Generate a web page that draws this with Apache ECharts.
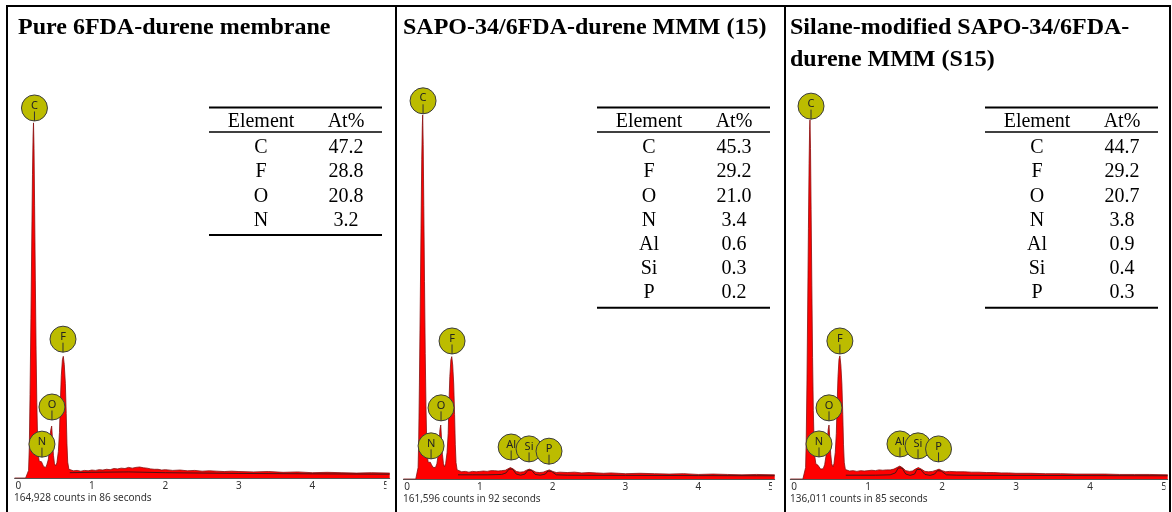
<!DOCTYPE html>
<html><head><meta charset="utf-8">
<script src="https://cdn.jsdelivr.net/npm/echarts@6/dist/echarts.min.js"></script>
<style>html,body{margin:0;padding:0;background:#fff}#c{width:1172px;height:512px}</style>
</head><body><div id="c"></div>
<script>
// ---------- titles ----------
const titles = ['Pure 6FDA-durene membrane', 'SAPO-34/6FDA-durene MMM (15)', 'Silane-modified SAPO-34/6FDA-\ndurene MMM (S15)'];
const countsTexts = ['164,928 counts in 86 seconds', '161,596 counts in 92 seconds', '136,011 counts in 85 seconds'];
const tickValues = [0, 1, 2, 3, 4, 5];

// ---------- tables ----------
const tableElements1 = ['C', 'F', 'O', 'N'];
const tableAt1 = ['47.2', '28.8', '20.8', '3.2'];
const tableElements2 = ['C', 'F', 'O', 'N', 'Al', 'Si', 'P'];
const tableAt2 = ['45.3', '29.2', '21.0', '3.4', '0.6', '0.3', '0.2'];
const tableElements3 = ['C', 'F', 'O', 'N', 'Al', 'Si', 'P'];
const tableAt3 = ['44.7', '29.2', '20.7', '3.8', '0.9', '0.4', '0.3'];

// ---------- spectra: [energy keV, relative counts] ----------
const spectrum1 = [
 [-0.05,0],[0.10,0],[0.125,0.3],[0.14,2],[0.15,8],[0.16,22],[0.172,42],[0.183,62],[0.193,80],[0.201,90],[0.207,93.7],[0.214,87],[0.222,72],[0.232,52],[0.242,34],[0.252,20],[0.262,11],[0.272,6],[0.285,4.4],
 [0.3,4.0],[0.315,4.3],[0.33,3.9],[0.345,3.0],[0.36,2.6],[0.375,2.8],[0.39,3.6],
 [0.41,5],[0.425,8.5],[0.44,12.5],[0.454,13.7],[0.466,10],[0.478,6],[0.492,3.8],[0.508,3.2],
 [0.525,4],[0.545,7],[0.56,12],[0.572,20],[0.585,27],[0.6,31.2],[0.612,32.1],[0.625,30],[0.64,25],[0.652,17],[0.662,9],[0.672,4.2],[0.688,2.3],[0.71,1.9],
 [0.75,1.9],[0.8,2.0],[0.85,1.8],[0.9,2.0],[0.95,1.9],[1.0,2.1],[1.05,2.0],[1.1,2.2],[1.15,2.1],[1.2,2.3],[1.25,2.2],[1.3,2.5],[1.35,2.4],[1.4,2.6],[1.45,2.5],[1.5,2.8],[1.55,2.6],[1.6,2.8],[1.65,2.9],[1.7,2.7],[1.75,2.6],[1.8,2.4],[1.85,2.3],[1.9,2.3],[1.95,2.1],[2.0,2.2],[2.1,2.0],[2.2,2.1],[2.3,1.9],[2.4,2.0],[2.5,1.8],[2.6,1.9],[2.7,1.8],[2.8,1.7],[2.9,1.8],[3.0,1.7],[3.2,1.6],[3.4,1.7],[3.6,1.5],[3.8,1.6],[4.0,1.4],[4.2,1.5],[4.4,1.4],[4.6,1.3],[4.8,1.4],[5.05,1.3]
];
const fit1 = [[0.7,1.4],[1.0,1.5],[1.5,1.6],[2.0,1.4],[3.0,1.2],[4.0,1.1],[5.05,1.0]];

const spectrum2 = [
 [-0.05,0],[0.12,0],[0.14,0.4],[0.152,3],[0.16,10],[0.17,25],[0.181,45],[0.192,66],[0.202,84],[0.21,93],[0.215,95.8],[0.222,88],[0.23,72],[0.24,52],[0.25,33],[0.26,19],[0.27,10],[0.28,6],[0.29,4.4],
 [0.305,4.2],[0.32,4.4],[0.335,3.8],[0.355,3.1],[0.375,2.8],[0.39,3.0],[0.41,4],
 [0.425,6],[0.44,9.5],[0.452,13],[0.463,14.2],[0.474,10.5],[0.486,6.5],[0.5,4],[0.515,3.2],
 [0.53,4],[0.55,7],[0.565,12],[0.576,20],[0.588,27],[0.602,31.3],[0.614,32.2],[0.627,30],[0.641,25],[0.653,17],[0.663,9],[0.673,4.3],[0.688,2.4],[0.71,1.9],
 [0.75,1.9],[0.8,2.0],[0.85,1.8],[0.9,2.0],[0.95,1.9],[1.0,2.0],[1.05,2.1],[1.1,2.0],[1.15,2.2],[1.2,2.2],[1.25,2.1],[1.3,2.2],[1.35,2.3],[1.38,2.6],[1.42,3.0],[1.46,2.6],[1.5,2.0],[1.55,1.8],[1.6,1.9],[1.64,2.3],[1.68,2.6],[1.72,2.3],[1.77,1.8],[1.82,1.7],[1.87,1.8],[1.91,2.1],[1.955,2.4],[2.0,2.0],[2.05,1.7],[2.1,1.8],[2.2,1.7],[2.3,1.8],[2.4,1.6],[2.5,1.7],[2.6,1.6],[2.7,1.5],[2.8,1.6],[2.9,1.5],[3.0,1.4],[3.2,1.5],[3.4,1.4],[3.6,1.3],[3.8,1.4],[4.0,1.2],[4.2,1.3],[4.4,1.2],[4.6,1.1],[4.8,1.2],[5.05,1.1]
];
const fit2 = [[0.7,1.1],[0.9,1.1],[1.1,1.1],[1.3,1.2],[1.36,1.6],[1.4,2.6],[1.42,3.0],[1.45,2.6],[1.5,1.3],[1.56,1.0],[1.62,1.3],[1.66,2.3],[1.68,2.6],[1.71,2.3],[1.76,1.2],[1.83,1.0],[1.9,1.3],[1.935,2.1],[1.955,2.4],[1.985,2.0],[2.05,1.1],[2.2,1.0],[3.0,0.95],[4.0,0.9],[5.05,0.85]];

const spectrum3 = [
 [-0.05,0],[0.12,0],[0.145,0.4],[0.157,3],[0.165,10],[0.175,25],[0.185,45],[0.195,66],[0.204,83],[0.211,92],[0.216,94.5],[0.223,87],[0.231,71],[0.241,51],[0.251,32],[0.261,18],[0.271,10],[0.282,5.8],[0.295,4.0],
 [0.31,3.5],[0.325,3.6],[0.34,3.2],[0.36,2.6],[0.38,2.4],[0.395,2.7],[0.415,3.8],
 [0.432,6],[0.448,9.5],[0.462,13],[0.473,14.2],[0.484,10.5],[0.496,6.5],[0.51,4],[0.525,3.2],
 [0.54,4],[0.558,7],[0.572,12],[0.583,20],[0.595,27],[0.608,31.5],[0.62,32.4],[0.633,30],[0.647,25],[0.659,17],[0.669,9],[0.679,4.4],[0.694,2.5],[0.715,2.0],
 [0.75,2.1],[0.8,2.2],[0.85,2.0],[0.9,2.2],[0.95,2.1],[1.0,2.2],[1.05,2.3],[1.1,2.2],[1.15,2.4],[1.2,2.3],[1.25,2.4],[1.3,2.4],[1.35,2.6],[1.39,3.0],[1.43,3.4],[1.47,2.9],[1.51,2.2],[1.56,2.0],[1.6,2.1],[1.64,2.6],[1.68,3.0],[1.72,2.6],[1.77,2.0],[1.82,1.9],[1.87,2.0],[1.92,2.3],[1.96,2.6],[2.0,2.2],[2.05,1.9],[2.1,2.0],[2.2,1.9],[2.3,1.9],[2.4,1.8],[2.5,1.8],[2.6,1.7],[2.7,1.7],[2.8,1.6],[2.9,1.6],[3.0,1.5],[3.2,1.5],[3.4,1.4],[3.6,1.4],[3.8,1.3],[4.0,1.3],[4.2,1.3],[4.4,1.2],[4.6,1.2],[4.8,1.2],[5.05,1.1]
];
const fit3 = [[0.7,1.0],[0.9,1.0],[1.1,1.0],[1.3,1.1],[1.37,1.6],[1.41,2.9],[1.43,3.3],[1.46,2.9],[1.51,1.3],[1.57,0.95],[1.63,1.3],[1.66,2.5],[1.68,2.9],[1.71,2.5],[1.77,1.2],[1.84,0.95],[1.9,1.3],[1.94,2.2],[1.96,2.5],[1.99,2.1],[2.06,1.1],[2.2,1.0],[3.0,0.95],[4.0,0.9],[5.05,0.85]];

// ---------- element peak labels: name, [energy, height at marker stem tip] ----------
const markerNames1 = ['C', 'N', 'O', 'F'];
const markerPos1 = [[0.22,94.2],[0.322,5.5],[0.458,15.3],[0.608,33.2]];
const markerNames2 = ['C', 'N', 'O', 'F', 'Al', 'Si', 'P'];
const markerPos2 = [[0.22,96.1],[0.33,5.3],[0.467,15.3],[0.618,32.9],[1.43,5.0],[1.676,4.5],[1.95,3.9]];
const markerNames3 = ['C', 'N', 'O', 'F', 'Al', 'Si', 'P'];
const markerPos3 = [[0.23,94.7],[0.338,5.8],[0.473,15.3],[0.62,32.9],[1.432,5.8],[1.676,5.3],[1.953,4.5]];

// ---------- layout ----------
const panels = [
  {grid: {left: 14.6, top: 99, width: 375.1, height: 379}, spec: spectrum1, fit: fit1, mNames: markerNames1, mPos: markerPos1,
   titleX: 18, countsX: 14, countsY: 498, tableLeft: 209, tEl: tableElements1, tAt: tableAt1, coverX: 386.5, coverW: 8},
  {grid: {left: 403.4, top: 99, width: 371.3, height: 380}, spec: spectrum2, fit: fit2, mNames: markerNames2, mPos: markerPos2,
   titleX: 403, countsX: 403, countsY: 499, tableLeft: 597, tEl: tableElements2, tAt: tableAt2, coverX: 772, coverW: 12},
  {grid: {left: 790.3, top: 99, width: 377.4, height: 380}, spec: spectrum3, fit: fit3, mNames: markerNames3, mPos: markerPos3,
   titleX: 790, countsX: 790, countsY: 499, tableLeft: 985, tEl: tableElements3, tAt: tableAt3, coverX: 1165.5, coverW: 3.5}
];

const SANS = '"Noto Sans", "DejaVu Sans", sans-serif';
const SERIF = '"Liberation Serif", "Times New Roman", serif';

function gLine(x1, y1, x2, y2, w) {
  return {type: 'line', z: 50, silent: true, shape: {x1, y1, x2, y2}, style: {stroke: '#000', lineWidth: w}};
}
function gText(x, y, text, font, align, vAlign) {
  return {type: 'text', z: 50, silent: true, x, y,
    style: {text, font, fill: '#000', align: align, verticalAlign: vAlign}};
}

const graphics = [];
// frame
graphics.push(gLine(6, 6, 1171, 6, 2));
[7, 396, 785, 1170].forEach(x => graphics.push(gLine(x, 5, x, 512, 2)));

panels.forEach((p, i) => {
  graphics.push({type: 'text', z: 50, silent: true, x: p.titleX, y: 12,
    style: {text: titles[i], font: 'bold 24px ' + SERIF, fill: '#000', align: 'left', verticalAlign: 'top', lineHeight: 32}});
  graphics.push({type: 'text', z: 50, silent: true, x: p.countsX, y: p.countsY,
    style: {text: countsTexts[i], font: '10px ' + SANS, fill: '#333', align: 'left', verticalAlign: 'middle'}});
  graphics.push({type: 'rect', z: 60, silent: true, shape: {x: p.coverX, y: 481, width: p.coverW, height: 13}, style: {fill: '#fff'}});
  const L = p.tableLeft, W = 173, c1 = L + 52, c2 = L + 137, row0 = 148, step = 24.2;
  const font = '20px ' + SERIF;
  graphics.push(gLine(L, 107.5, L + W, 107.5, 2));
  graphics.push(gText(c1, 122, 'Element', font, 'center', 'middle'));
  graphics.push(gText(c2, 122, 'At%', font, 'center', 'middle'));
  graphics.push(gLine(L, 132, L + W, 132, 1.5));
  p.tEl.forEach((el, k) => {
    graphics.push(gText(c1, row0 + k * step, el, font, 'center', 'middle'));
    graphics.push(gText(c2, row0 + k * step, p.tAt[k], font, 'center', 'middle'));
  });
  const by = row0 + (p.tEl.length - 1) * step + 14.5;
  graphics.push(gLine(L, by, L + W, by, 2));
});

function makeMarkerRender(names) {
  return function (params, api) {
    const pt = api.coord([api.value(0), api.value(1)]);
    const r = 13;
    const cx = pt[0], cy = pt[1] - r;
    return {type: 'group', children: [
      {type: 'circle', shape: {cx, cy, r}, style: {fill: '#bcbc00', stroke: '#3c3c3c', lineWidth: 1}},
      {type: 'line', shape: {x1: cx, y1: cy + 3.5, x2: cx, y2: cy + r}, style: {stroke: '#333', lineWidth: 1}},
      {type: 'text', x: cx, y: cy - 2.5, style: {text: names[params.dataIndex], font: '11px ' + SANS, fill: '#222', align: 'center', verticalAlign: 'middle'}}
    ]};
  };
}

const option = {
  animation: false,
  backgroundColor: '#fff',
  grid: panels.map(p => p.grid),
  xAxis: panels.map((p, i) => ({
    type: 'value', gridIndex: i, min: -0.05, max: 5.05,
    axisLine: {show: true, onZero: false, lineStyle: {color: '#555', width: 1}},
    axisTick: {show: false},
    splitLine: {show: false},
    axisLabel: {customValues: tickValues, formatter: v => String(Math.round(v)), fontSize: 10, fontFamily: SANS, color: '#333', margin: 3}
  })),
  yAxis: panels.map((p, i) => ({type: 'value', gridIndex: i, min: 0, max: 100, show: false})),
  series: [].concat(...panels.map((p, i) => [
    {type: 'line', xAxisIndex: i, yAxisIndex: i, data: p.spec, symbol: 'none', silent: true, z: 2,
     lineStyle: {color: '#861010', width: 0.8}, areaStyle: {color: '#ff0000', opacity: 1}},
    {type: 'line', xAxisIndex: i, yAxisIndex: i, data: p.fit, symbol: 'none', silent: true, z: 3,
     lineStyle: {color: '#1a1a1a', width: 0.8}},
    {type: 'custom', xAxisIndex: i, yAxisIndex: i, data: p.mPos, silent: true, z: 4, clip: false,
     renderItem: makeMarkerRender(p.mNames)}
  ])),
  graphic: graphics
};

const chart = echarts.init(document.getElementById('c'), null, {renderer: 'canvas'});
chart.setOption(option);
</script></body></html>
